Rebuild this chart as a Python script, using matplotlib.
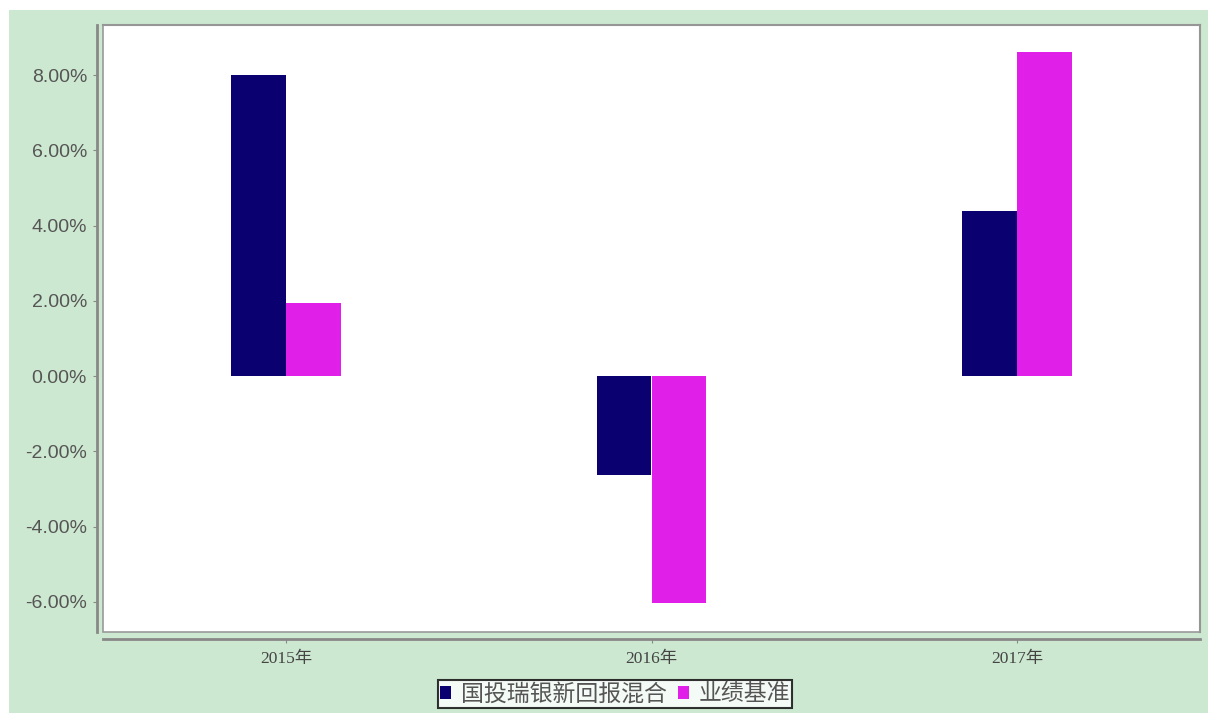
import numpy as np
import matplotlib.pyplot as plt
from matplotlib.patches import Rectangle

plt.rcParams['font.family'] = ['Noto Sans CJK SC', 'DejaVu Sans']

years = ['2015年', '2016年', '2017年']
fund = [8.00, -2.63, 4.39]
bench = [1.94, -6.04, 8.62]
series_names = ['国投瑞银新回报混合', '业绩基准']
yticks = [-6, -4, -2, 0, 2, 4, 6, 8]

W, H = 1208, 713
fig = plt.figure(figsize=(W / 100, H / 100), dpi=100, facecolor='white')
# green panel behind the chart
bg = Rectangle((9 / W, 0), 1 - 9 / W, 1 - 10 / H, transform=fig.transFigure,
               facecolor='#cde8d0', edgecolor='none', zorder=-10)
fig.add_artist(bg)

ax = fig.add_axes([103 / W, (H - 632) / H, 1097 / W, 607 / H])
ax.set_facecolor('white')

x = np.arange(len(years))
w = 0.15
ax.bar(x - w / 2, fund, w, color='#0a0070', label=series_names[0], zorder=3)
ax.bar(x + w / 2, bench, w, color='#e020e8', label=series_names[1], zorder=3)

ax.set_xlim(-0.5, 2.5)
ax.set_ylim(-6.8, 9.33)
ax.set_yticks(yticks)
ax.set_yticklabels([f'{v:.2f}%' for v in yticks])
ax.set_xticks(x)
ax.set_xticklabels(years)

for s in ['top', 'right']:
    ax.spines[s].set_color('#888888')
    ax.spines[s].set_linewidth(1.5)
ax.spines['left'].set_position(('outward', 4.5))
ax.spines['bottom'].set_position(('outward', 5))
for s in ['left', 'bottom']:
    ax.spines[s].set_color('#888888')
    ax.spines[s].set_linewidth(2)
# inner frame of the plot area
ax.add_patch(Rectangle((0, 0), 1, 1, transform=ax.transAxes, fill=False,
                       edgecolor='#999999', linewidth=1.2, zorder=5, clip_on=False))
ax.tick_params(axis='y', length=3, color='#888888', pad=4, labelsize=14,
               labelcolor='#555555', labelfontfamily=['Liberation Sans', 'DejaVu Sans'])
ax.tick_params(axis='x', length=3, color='#888888', pad=6, labelsize=12.5,
               labelcolor='#444444', labelfontfamily=['Liberation Serif', 'Noto Sans CJK SC'])

leg = fig.legend(loc='upper center', bbox_to_anchor=(615 / W, 1 - 680 / H), ncol=2,
                 fontsize=16.5, frameon=True, fancybox=False, edgecolor='black',
                 handlelength=0.5, handleheight=0.5, handletextpad=0.4, columnspacing=0.5,
                 borderpad=0.1, borderaxespad=0, labelcolor='#555555')
leg.get_frame().set_linewidth(1.5)

fig.savefig('out.png', dpi=100, facecolor=fig.get_facecolor())
